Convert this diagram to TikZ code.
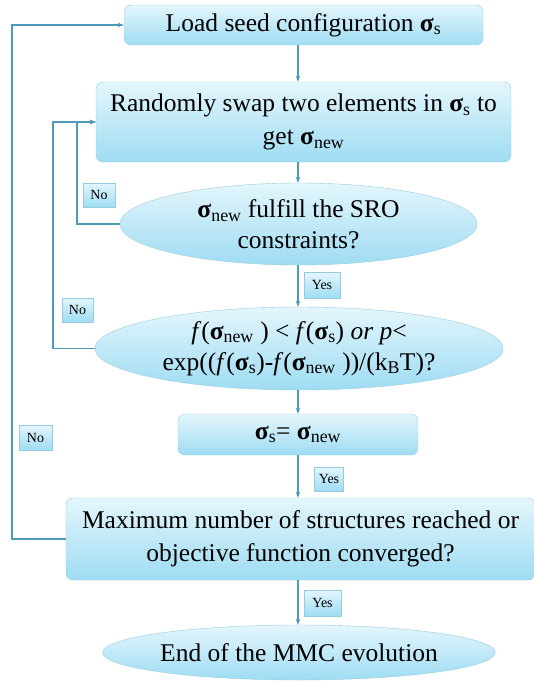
\documentclass[tikz,border=0pt]{standalone}
\usepackage{fontspec}
\setmainfont{Liberation Serif}
\usepackage{tikz}
\usetikzlibrary{positioning, arrows.meta, shapes.geometric}

\definecolor{flowline}{RGB}{78,154,184}
\definecolor{boxedge}{RGB}{150,205,222}
\definecolor{boxtop}{RGB}{228,246,252}
\definecolor{boxbot}{RGB}{158,220,243}

\tikzset{
  procbox/.style={draw=boxedge, rounded corners=7pt, top color=boxtop, bottom color=boxbot,
    align=center, inner sep=0pt, font=\fontsize{25.5}{33}\selectfont},
  decision/.style={ellipse, draw=boxedge, top color=boxtop, bottom color=boxbot,
    align=center, inner sep=0pt, font=\fontsize{25.5}{31}\selectfont},
  answer/.style={draw=boxedge, top color=boxtop, bottom color=boxbot,
    inner sep=0pt, font=\fontsize{14}{16}\selectfont},
  flow/.style={flowline, line width=1.3pt, -{Stealth[length=6pt,width=4.5pt]}},
}
\newcommand{\sig}[1]{\textbf{σ}\textsubscript{#1}}

\begin{document}
\begin{tikzpicture}[x=1pt, y=-1pt]
\useasboundingbox (0,0) rectangle (533,682);
% --- main column ---
\node[procbox, minimum width=359, minimum height=40] (load) at (303.5,25) {Load seed configuration \sig{s}};
\node[procbox, minimum width=415, minimum height=80] (swap) at (303.5,122) {Randomly swap two elements in \sig{s} to\\get \sig{new}};
\node[decision, minimum width=357, minimum height=82] (sro) at (298.5,224) {\sig{new} fulfill the SRO\\constraints?};
\node[decision, minimum width=408, minimum height=83] (accept) at (299,348.5)
  {\textit{f}(\sig{new} ) < \textit{f}(\sig{s}) \textit{or p}<\\exp((\textit{f}(\sig{s})-\textit{f}(\sig{new} ))/(k\textsubscript{B}T)?};
\node[procbox, minimum width=240, minimum height=41] (update) at (298,434.5) {\sig{s}= \sig{new}};
\node[procbox, minimum width=469, minimum height=82] (stop) at (300.5,539) {Maximum number of structures reached or\\objective function converged?};
\node[decision, minimum width=328, minimum height=55] (finish) at (299,652.5) {End of the MMC evolution};

% --- Yes / No tags ---
\node[answer, minimum width=36, minimum height=26] (yes1) at (322,285) {Yes};
\node[answer, minimum width=29, minimum height=24] (yes2) at (329,479) {Yes};
\node[answer, minimum width=37, minimum height=26] (yes3) at (322.5,603) {Yes};
\node[answer, minimum width=32, minimum height=24] (no1) at (99,195) {No};
\node[answer, minimum width=31, minimum height=24] (no2) at (77.5,310) {No};
\node[answer, minimum width=33, minimum height=25] (no3) at (35.5,437.5) {No};

% --- forward flow ---
\coordinate (spine) at (298,0);
\draw[flow] (load.south -| spine) -- (swap.north -| spine);
\draw[flow] (swap.south -| spine) -- (sro.north -| spine);
\draw[flow] (sro.south -| spine) -- (accept.north -| spine);
\draw[flow] (accept.south -| spine) -- (update.north -| spine);
\draw[flow] (update.south -| spine) -- (stop.north -| spine);
\draw[flow] (stop.south -| spine) -- (finish.north -| spine);

% --- feedback loops ---
\coordinate (innerloop) at (77,0);
\coordinate (midloop) at (53,0);
\coordinate (outerloop) at (12,0);
\draw[flow] (sro.west) -| (innerloop |- swap.west) -- (swap.west);
\draw[flow] (accept.west) -| (midloop |- swap.west) -- (swap.west);
\draw[flow] (stop.west) -| (outerloop |- load.west) -- (load.west);
\end{tikzpicture}
\end{document}
